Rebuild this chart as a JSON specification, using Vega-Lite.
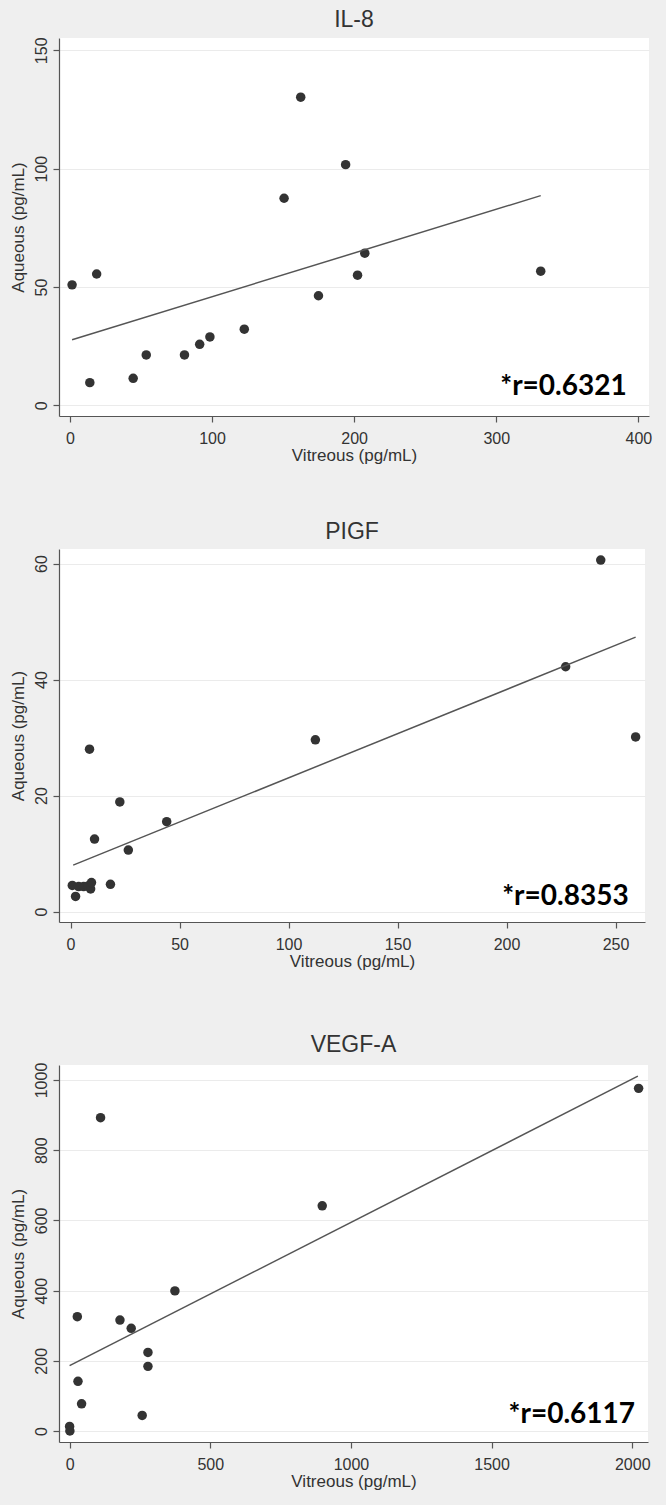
{
  "$schema": "https://vega.github.io/schema/vega-lite/v6.json",
  "background": "#efefef",
  "padding": {"left": 9, "top": 8, "right": 14, "bottom": 16},
  "datasets": {
    "il8": [
      {"vitreous": 1.5, "aqueous": 50.9}, {"vitreous": 18.8, "aqueous": 55.5}, {"vitreous": 14, "aqueous": 9.6},
      {"vitreous": 44.5, "aqueous": 11.4}, {"vitreous": 53.7, "aqueous": 21.3}, {"vitreous": 80.6, "aqueous": 21.3},
      {"vitreous": 91.3, "aqueous": 25.8}, {"vitreous": 98.5, "aqueous": 28.9}, {"vitreous": 122.7, "aqueous": 32.2},
      {"vitreous": 150.7, "aqueous": 87.5}, {"vitreous": 162.4, "aqueous": 130.2}, {"vitreous": 174.9, "aqueous": 46.3},
      {"vitreous": 194, "aqueous": 101.7}, {"vitreous": 202.4, "aqueous": 55.0}, {"vitreous": 207.5, "aqueous": 64.3},
      {"vitreous": 331.3, "aqueous": 56.7}
    ],
    "il8_fit": [{"vitreous": 1.5, "aqueous": 27.7}, {"vitreous": 331.3, "aqueous": 88.6}],
    "il8_r": [{"vitreous": 391.8, "aqueous": 4.2, "label": "*r=0.6321"}],
    "plgf": [
      {"vitreous": 0.8, "aqueous": 4.5}, {"vitreous": 2.3, "aqueous": 2.6}, {"vitreous": 3.7, "aqueous": 4.3},
      {"vitreous": 6, "aqueous": 4.3}, {"vitreous": 8, "aqueous": 4.4}, {"vitreous": 9.2, "aqueous": 3.9},
      {"vitreous": 9.6, "aqueous": 5.0}, {"vitreous": 8.7, "aqueous": 28.0}, {"vitreous": 11.0, "aqueous": 12.5},
      {"vitreous": 18.3, "aqueous": 4.7}, {"vitreous": 22.6, "aqueous": 18.9}, {"vitreous": 26.5, "aqueous": 10.6},
      {"vitreous": 44.1, "aqueous": 15.5}, {"vitreous": 112.3, "aqueous": 29.6}, {"vitreous": 227.1, "aqueous": 42.2},
      {"vitreous": 243.2, "aqueous": 60.6}, {"vitreous": 259.2, "aqueous": 30.1}
    ],
    "plgf_fit": [{"vitreous": 1.2, "aqueous": 8.0}, {"vitreous": 259.2, "aqueous": 47.3}],
    "plgf_r": [{"vitreous": 256, "aqueous": 1.1, "label": "*r=0.8353"}],
    "vegf": [
      {"vitreous": 0, "aqueous": 13}, {"vitreous": 1, "aqueous": 0}, {"vitreous": 110, "aqueous": 892.6},
      {"vitreous": 27.4, "aqueous": 325.8}, {"vitreous": 29.8, "aqueous": 141.6}, {"vitreous": 42.6, "aqueous": 77.3},
      {"vitreous": 179, "aqueous": 316}, {"vitreous": 219, "aqueous": 292.6}, {"vitreous": 258, "aqueous": 44.2},
      {"vitreous": 278.5, "aqueous": 223.8}, {"vitreous": 278.5, "aqueous": 184.1}, {"vitreous": 374.3, "aqueous": 399.2},
      {"vitreous": 898, "aqueous": 641.6}, {"vitreous": 2022.6, "aqueous": 976.2}
    ],
    "vegf_fit": [{"vitreous": 0, "aqueous": 186}, {"vitreous": 2020, "aqueous": 1011}],
    "vegf_r": [{"vitreous": 2010, "aqueous": 23.7, "label": "*r=0.6117"}]
  },
  "vconcat": [
    {
      "vconcat": [
        {
          "title": {"text": "IL-8"},
          "width": 590,
          "height": 378,
          "encoding": {
            "x": {"field": "vitreous", "type": "quantitative", "title": "Vitreous (pg/mL)",
                  "scale": {"domain": [-7.7, 407.5], "nice": false, "zero": false},
                  "axis": {"values": [0, 100, 200, 300, 400]}},
            "y": {"field": "aqueous", "type": "quantitative", "title": "Aqueous (pg/mL)",
                  "scale": {"domain": [-4.5, 155.2], "nice": false, "zero": false},
                  "axis": {"values": [0, 50, 100, 150]}}
          },
          "layer": [
            {"data": {"name": "il8"}, "mark": {"type": "point", "filled": true, "size": 90, "color": "#333", "opacity": 1}},
            {"data": {"name": "il8_fit"}, "mark": {"type": "line", "color": "#555", "strokeWidth": 1.5}},
            {"data": {"name": "il8_r"}, "mark": {"type": "text", "align": "right", "baseline": "alphabetic", "font": "Lato", "fontWeight": "bold", "fontSize": 28, "color": "#000"},
             "encoding": {"text": {"field": "label"}}}
          ]
        },
        {
          "title": {"text": "PIGF"},
          "width": 586,
          "height": 373,
          "encoding": {
            "x": {"field": "vitreous", "type": "quantitative", "title": "Vitreous (pg/mL)",
                  "scale": {"domain": [-5.3, 263.5], "nice": false, "zero": false},
                  "axis": {"values": [0, 50, 100, 150, 200, 250]}},
            "y": {"field": "aqueous", "type": "quantitative", "title": "Aqueous (pg/mL)",
                  "scale": {"domain": [-1.8, 62.5], "nice": false, "zero": false},
                  "axis": {"values": [0, 20, 40, 60]}}
          },
          "layer": [
            {"data": {"name": "plgf"}, "mark": {"type": "point", "filled": true, "size": 90, "color": "#333", "opacity": 1}},
            {"data": {"name": "plgf_fit"}, "mark": {"type": "line", "color": "#555", "strokeWidth": 1.5}},
            {"data": {"name": "plgf_r"}, "mark": {"type": "text", "align": "right", "baseline": "alphabetic", "font": "Lato", "fontWeight": "bold", "fontSize": 28, "color": "#000"},
             "encoding": {"text": {"field": "label"}}}
          ]
        }
      ],
      "spacing": 58
    },
    {
      "title": {"text": "VEGF-A"},
      "width": 589,
      "height": 377,
      "encoding": {
        "x": {"field": "vitreous", "type": "quantitative", "title": "Vitreous (pg/mL)",
              "scale": {"domain": [-37.7, 2056], "nice": false, "zero": false},
              "axis": {"values": [0, 500, 1000, 1500, 2000]}},
        "y": {"field": "aqueous", "type": "quantitative", "title": "Aqueous (pg/mL)",
              "scale": {"domain": [-31.4, 1042.8], "nice": false, "zero": false},
              "axis": {"values": [0, 200, 400, 600, 800, 1000]}}
      },
      "layer": [
        {"data": {"name": "vegf"}, "mark": {"type": "point", "filled": true, "size": 90, "color": "#333", "opacity": 1}},
        {"data": {"name": "vegf_fit"}, "mark": {"type": "line", "color": "#555", "strokeWidth": 1.5}},
        {"data": {"name": "vegf_r"}, "mark": {"type": "text", "align": "right", "baseline": "alphabetic", "font": "Lato", "fontWeight": "bold", "fontSize": 28, "color": "#000"},
         "encoding": {"text": {"field": "label"}}}
      ]
    }
  ],
  "spacing": 65,
  "config": {
    "view": {"fill": "white", "stroke": null},
    "font": "Liberation Sans",
    "axis": {
      "labelFont": "Liberation Sans", "labelFontSize": 16, "labelColor": "#333", "format": "d",
      "titleFont": "Liberation Sans", "titleFontSize": 17, "titleFontWeight": "normal", "titleColor": "#333",
      "domainColor": "#555", "tickColor": "#555", "tickSize": 6, "domainWidth": 1.2, "tickWidth": 1.2,
      "gridColor": "#ebebeb", "gridWidth": 1
    },
    "axisX": {"grid": false, "labelPadding": 8, "titlePadding": 1},
    "axisY": {"grid": true, "labelAngle": -90, "labelAlign": "center", "labelBaseline": "alphabetic", "labelPadding": 7, "titlePadding": 6},
    "title": {"fontSize": 23, "font": "Liberation Sans", "fontWeight": "normal", "color": "#333", "baseline": "alphabetic", "offset": 5}
  }
}
